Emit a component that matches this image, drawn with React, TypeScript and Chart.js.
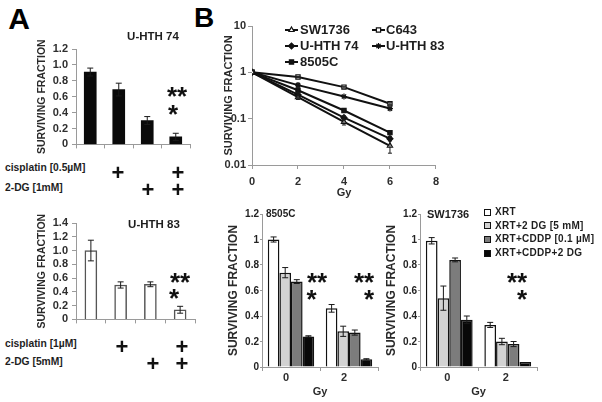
import React, { useEffect, useRef, useState } from 'react';
import { Chart, registerables } from 'chart.js';
import { drawPoint } from 'chart.js/helpers';

Chart.register(...registerables);

const FONT = "'Liberation Sans', Arial, Helvetica, sans-serif";

// ---------- Panel A (clonogenic survival, bars) ----------
const aTreatments = ['control', 'cisplatin', '2-DG', 'cisplatin + 2-DG'];
const uhth74Fraction = [0.91, 0.69, 0.3, 0.095];
const uhth74Error = [0.05, 0.08, 0.05, 0.045];
const uhth74Ticks = [0, 0.2, 0.4, 0.6, 0.8, 1.0, 1.2];
const uhth83Fraction = [1.0, 0.5, 0.51, 0.14];
const uhth83Error = [0.15, 0.045, 0.035, 0.05];
const uhth83Ticks = [0, 0.2, 0.4, 0.6, 0.8, 1.0, 1.2, 1.4];

// ---------- Panel B (dose response, log lines) ----------
const doseGy = [0, 2, 4, 6];
const survivalTicks = [0.01, 0.1, 1, 10];
const sw1736Survival = [1, 0.29, 0.085, 0.026];
const sw1736SurvivalErr = [0, 0.03, 0.012, 0.008];
const c643Survival = [1, 0.79, 0.48, 0.21];
const c643SurvivalErr = [0, 0.02, 0.02, 0.01];
const uhth74Survival = [1, 0.33, 0.105, 0.037];
const uhth74SurvivalErr = [0, 0.04, 0.01, 0.004];
const uhth83Survival = [1, 0.53, 0.3, 0.165];
const uhth83SurvivalErr = [0, 0.05, 0.015, 0.008];
const c8505Survival = [1, 0.41, 0.15, 0.05];
const c8505SurvivalErr = [0, 0.05, 0.012, 0.005];

// ---------- Panel B (combination bars) ----------
const gyCategories = ['0', '2'];
const comboTicks = [0, 0.2, 0.4, 0.6, 0.8, 1, 1.2];
const comboNames = ['XRT', 'XRT+2 DG [5 mM]', 'XRT+CDDP [0.1 µM]', 'XRT+CDDP+2 DG'];
const c8505Xrt = [1.0, 0.46];
const c8505XrtErr = [0.02, 0.03];
const c8505Xrt2dg = [0.74, 0.28];
const c8505Xrt2dgErr = [0.04, 0.04];
const c8505XrtCddp = [0.67, 0.27];
const c8505XrtCddpErr = [0.015, 0.02];
const c8505XrtCddp2dg = [0.24, 0.06];
const c8505XrtCddp2dgErr = [0.005, 0.005];
const sw1736Xrt = [0.99, 0.33];
const sw1736XrtErr = [0.025, 0.02];
const sw1736Xrt2dg = [0.54, 0.2];
const sw1736Xrt2dgErr = [0.095, 0.025];
const sw1736XrtCddp = [0.84, 0.18];
const sw1736XrtCddpErr = [0.015, 0.02];
const sw1736XrtCddp2dg = [0.37, 0.04];
const sw1736XrtCddp2dgErr = [0.03, 0];

const comboFills = ['#ffffff', '#d2d2d2', '#7c7c7c', '#080808'];

const AXIS = '#9a9a9a';
const TICK_COLOR = '#2e2e2e';

const errorBarPlugin = {
  id: 'errorBars',
  afterDatasetsDraw(chart: any) {
    const ctx = chart.ctx;
    chart.data.datasets.forEach((ds: any, i: number) => {
      const errs = ds.errors;
      if (!errs) return;
      const meta = chart.getDatasetMeta(i);
      const yScale = chart.scales[meta.yAxisID];
      meta.data.forEach((el: any, j: number) => {
        const e = errs[j];
        if (!e) return;
        const raw = ds.data[j];
        const v = typeof raw === 'object' ? raw.y : raw;
        const x = el.x;
        const yTop = yScale.getPixelForValue(v + e);
        const yBot = yScale.getPixelForValue(Math.max(v - e, yScale.min));
        const w = ds.errorCap ?? 3;
        ctx.save();
        ctx.strokeStyle = ds.errorColor || '#1a1a1a';
        ctx.lineWidth = 1;
        ctx.beginPath();
        ctx.moveTo(x, yTop);
        ctx.lineTo(x, yBot);
        ctx.moveTo(x - w, yTop);
        ctx.lineTo(x + w, yTop);
        ctx.moveTo(x - w, yBot);
        ctx.lineTo(x + w, yBot);
        ctx.stroke();
        ctx.restore();
      });
    });
  },
};

const lineLegendPlugin = {
  id: 'lineLegend',
  afterDraw(chart: any, _args: any, opts: any) {
    if (!opts || !opts.items) return;
    const ctx = chart.ctx;
    chart.data.datasets.forEach((ds: any, i: number) => {
      const it = opts.items[i];
      if (!it) return;
      ctx.save();
      ctx.strokeStyle = '#111';
      ctx.lineWidth = 2;
      ctx.beginPath();
      ctx.moveTo(it.x, it.y);
      ctx.lineTo(it.x + 13, it.y);
      ctx.stroke();
      ctx.fillStyle = ds.pointBackgroundColor;
      ctx.strokeStyle = '#111';
      ctx.lineWidth = 1.2;
      drawPoint(ctx, { pointStyle: ds.pointStyle, rotation: 0, radius: 3, borderWidth: 1.2 }, it.x + 6.5, it.y);
      ctx.fillStyle = '#1e1e1e';
      ctx.font = `bold 13px ${FONT}`;
      ctx.textBaseline = 'middle';
      ctx.textAlign = 'left';
      ctx.fillText(ds.label, it.tx, it.y + 0.5);
      ctx.restore();
    });
  },
};

// Canvas wrapper. When yLabels is set, the y tick labels are laid out as HTML
// text at the pixel positions reported by the chart's own y scale.
function ChartCanvas({ left, top, width, height, make, yLabels }: any) {
  const ref = useRef<HTMLCanvasElement | null>(null);
  const [labels, setLabels] = useState<any[]>([]);
  useEffect(() => {
    const chart: any = new Chart(ref.current as HTMLCanvasElement, make());
    if (yLabels) {
      const s = chart.scales.y;
      setLabels(
        s.ticks.map((t: any) => ({
          text: String(t.value),
          right: s.right - yLabels.offset,
          y: s.getPixelForValue(t.value),
        }))
      );
    }
    return () => chart.destroy();
  }, []);
  return (
    <>
      <canvas
        ref={ref}
        width={width}
        height={height}
        style={{ position: 'absolute', left, top, width, height }}
      />
      {yLabels &&
        labels.map((l) => (
          <div
            key={l.text}
            style={{
              position: 'absolute',
              zIndex: 5,
              left: left + l.right - 30,
              width: 30,
              textAlign: 'right',
              top: top + l.y - yLabels.size / 2,
              fontSize: yLabels.size,
              lineHeight: `${yLabels.size}px`,
              fontWeight: 700,
              color: '#222',
              whiteSpace: 'nowrap',
            }}
          >
            {l.text}
          </div>
        ))}
    </>
  );
}

function Txt({ x, y, size, children, bold = true, align = 'left', color = '#1e1e1e', spacing }: any) {
  const style: any = {
    position: 'absolute',
    top: y - size / 2,
    left: x,
    fontSize: size,
    lineHeight: `${size}px`,
    fontWeight: bold ? 700 : 400,
    color,
    whiteSpace: 'nowrap',
    letterSpacing: spacing,
  };
  if (align === 'center') style.transform = 'translateX(-50%)';
  return <div style={style}>{children}</div>;
}

function Stars({ x, y, text }: any) {
  const size = 26;
  return (
    <div
      style={{
        position: 'absolute',
        left: x,
        top: y - 0.28 * size,
        transform: 'translateX(-50%)',
        fontSize: size,
        lineHeight: `${size}px`,
        fontWeight: 700,
        color: '#111',
        whiteSpace: 'nowrap',
      }}
    >
      {text}
    </div>
  );
}

function Plus({ x, y }: any) {
  return (
    <Txt x={x} y={y} size={22} align="center" color="#111">
      +
    </Txt>
  );
}

function fixedTicks(values: number[]) {
  return (s: any) => {
    s.ticks = values.map((value) => ({ value }));
  };
}

function panelAConfig(values: number[], errors: number[], tickValues: number[], fill: string, border: string, bw: number) {
  return {
    type: 'bar',
    data: {
      labels: aTreatments,
      datasets: [
        {
          data: values,
          errors,
          errorCap: 3,
          backgroundColor: fill,
          borderColor: border,
          borderWidth: bw,
          barThickness: 12,
        },
      ],
    },
    options: {
      responsive: false,
      animation: false,
      devicePixelRatio: 1,
      events: [],
      layout: { padding: { top: 11, right: 5, left: 0, bottom: 0 } },
      plugins: { legend: { display: false }, tooltip: { enabled: false } },
      scales: {
        x: {
          grid: { display: true, drawOnChartArea: false, drawTicks: true, tickLength: 4, color: AXIS },
          border: { color: AXIS, width: 1 },
          ticks: { display: false },
          afterFit: (s: any) => {
            s.height = 6;
          },
        },
        y: {
          min: 0,
          max: tickValues[tickValues.length - 1],
          afterBuildTicks: fixedTicks(tickValues),
          ticks: {
            autoSkip: false,
            padding: 4,
            color: TICK_COLOR,
            font: { family: FONT, size: 11, weight: 'bold' },
            callback: (v: any) => (Number(v) === 0 ? '0' : Number(v).toFixed(1)),
          },
          grid: { display: true, drawOnChartArea: false, drawTicks: true, tickLength: 4, color: AXIS },
          border: { color: AXIS, width: 1 },
          title: {
            display: true,
            text: 'SURVIVING FRACTION',
            color: '#2a2a2a',
            font: { family: FONT, size: 10.5, weight: 'bold' },
            padding: { top: 6, bottom: 0 },
          },
          afterFit: (s: any) => {
            s.width = 46;
          },
        },
      },
    },
    plugins: [errorBarPlugin],
  };
}

function panelBBarConfig(series: number[][], errs: number[][], labelOffset: number) {
  return {
    type: 'bar',
    data: {
      labels: gyCategories,
      datasets: series.map((vals, i) => ({
        label: comboNames[i],
        data: vals,
        errors: errs[i],
        errorCap: 3,
        backgroundColor: comboFills[i],
        borderColor: '#111',
        borderWidth: 1.5,
        categoryPercentage: 0.8,
        barPercentage: 1,
      })),
    },
    options: {
      responsive: false,
      animation: false,
      devicePixelRatio: 1,
      events: [],
      layout: { padding: { top: 11, right: 4, left: 0, bottom: 0 } },
      plugins: { legend: { display: false }, tooltip: { enabled: false } },
      scales: {
        x: {
          grid: { display: true, drawOnChartArea: false, drawTicks: true, tickLength: 4, color: AXIS },
          border: { color: AXIS, width: 1 },
          ticks: {
            padding: 0,
            labelOffset,
            color: TICK_COLOR,
            font: { family: FONT, size: 11, weight: 'bold' },
          },
          title: {
            display: true,
            text: 'Gy',
            color: '#2a2a2a',
            font: { family: FONT, size: 11, weight: 'bold' },
            padding: { top: 0, bottom: 0 },
          },
          afterFit: (s: any) => {
            s.height = 32;
          },
        },
        y: {
          min: 0,
          max: comboTicks[comboTicks.length - 1],
          afterBuildTicks: fixedTicks(comboTicks),
          ticks: { display: false, autoSkip: false },
          grid: { display: true, drawOnChartArea: false, drawTicks: true, tickLength: 2, color: AXIS },
          border: { color: AXIS, width: 1 },
          title: {
            display: true,
            text: 'SURVIVING FRACTION',
            color: '#2a2a2a',
            font: { family: FONT, size: 12, weight: 'bold' },
            padding: { top: 4, bottom: 0 },
          },
          afterFit: (s: any) => {
            s.width = 40;
          },
        },
      },
    },
    plugins: [errorBarPlugin],
  };
}

const lineSeries = [
  { name: 'SW1736', values: sw1736Survival, errors: sw1736SurvivalErr, style: 'triangle', fill: '#ffffff' },
  { name: 'C643', values: c643Survival, errors: c643SurvivalErr, style: 'rect', fill: '#ffffff' },
  { name: 'U-HTH 74', values: uhth74Survival, errors: uhth74SurvivalErr, style: 'rectRot', fill: '#111111' },
  { name: 'U-HTH 83', values: uhth83Survival, errors: uhth83SurvivalErr, style: 'star', fill: '#111111' },
  { name: '8505C', values: c8505Survival, errors: c8505SurvivalErr, style: 'rect', fill: '#111111' },
];

function lineConfig() {
  return {
    type: 'line',
    data: {
      datasets: lineSeries.map((s) => ({
        label: s.name,
        data: doseGy.map((d, i) => ({ x: d, y: s.values[i] })),
        errors: s.errors,
        errorCap: 2,
        borderColor: '#111',
        borderWidth: 2,
        tension: 0,
        pointStyle: s.style,
        pointRadius: 3,
        pointBackgroundColor: s.fill,
        pointBorderColor: '#111',
        pointBorderWidth: 1.2,
      })),
    },
    options: {
      responsive: false,
      animation: false,
      devicePixelRatio: 1,
      events: [],
      layout: { padding: { top: 12, right: 7, left: 0, bottom: 0 } },
      plugins: {
        legend: { display: false },
        tooltip: { enabled: false },
        lineLegend: {
          items: [
            { x: 70, tx: 85, y: 16 },
            { x: 157, tx: 171, y: 16 },
            { x: 70, tx: 85, y: 32 },
            { x: 157, tx: 171, y: 32 },
            { x: 70, tx: 85, y: 48 },
          ],
        },
      },
      scales: {
        x: {
          type: 'linear',
          min: 0,
          max: 8,
          grid: { display: true, drawOnChartArea: false, drawTicks: true, tickLength: 4, color: AXIS },
          border: { color: AXIS, width: 1 },
          ticks: {
            stepSize: 2,
            padding: 6,
            color: TICK_COLOR,
            font: { family: FONT, size: 11, weight: 'bold' },
          },
          title: {
            display: true,
            text: 'Gy',
            color: '#2a2a2a',
            font: { family: FONT, size: 11, weight: 'bold' },
            padding: { top: 0, bottom: 0 },
          },
          afterFit: (s: any) => {
            s.height = 35;
          },
        },
        y: {
          type: 'logarithmic',
          min: 0.01,
          max: 10,
          afterBuildTicks: fixedTicks(survivalTicks),
          ticks: {
            autoSkip: false,
            padding: 2,
            color: TICK_COLOR,
            font: { family: FONT, size: 11, weight: 'bold' },
            callback: (v: any) => String(v),
          },
          grid: { display: true, drawOnChartArea: false, drawTicks: true, tickLength: 4, color: AXIS },
          border: { color: AXIS, width: 1 },
          title: {
            display: true,
            text: 'SURVIVING FRACTION',
            color: '#2a2a2a',
            font: { family: FONT, size: 11, weight: 'bold' },
            padding: { top: 7, bottom: 0 },
          },
          afterFit: (s: any) => {
            s.width = 37;
          },
        },
      },
    },
    plugins: [errorBarPlugin, lineLegendPlugin],
  };
}

function LegendSquare({ x, y, fill, label }: any) {
  return (
    <>
      <div
        style={{
          position: 'absolute',
          left: x,
          top: y - 3.5,
          width: 7,
          height: 7,
          boxSizing: 'border-box',
          border: '1.5px solid #111',
          background: fill,
        }}
      />
      <Txt x={x + 11} y={y} size={10} spacing="0.3px">
        {label}
      </Txt>
    </>
  );
}

export default function App() {
  return (
    <div
      style={{
        position: 'absolute',
        left: 0,
        top: 0,
        width: 602,
        height: 402,
        background: '#fff',
        overflow: 'hidden',
        fontFamily: FONT,
      }}
    >
      {/* Panel letters */}
      <Txt x={19} y={18.5} size={30} align="center" color="#000">A</Txt>
      <Txt x={204} y={18} size={28} align="center" color="#000">B</Txt>

      {/* Panel A top: U-HTH 74 */}
      <ChartCanvas
        left={30}
        top={38}
        width={165}
        height={117}
        make={() => panelAConfig(uhth74Fraction, uhth74Error, uhth74Ticks, '#0a0a0a', '#0a0a0a', 0)}
      />
      <Txt x={153} y={37} size={11.5} align="center">U-HTH 74</Txt>
      <Stars x={177} y={90} text="**" />
      <Stars x={173} y={108} text="*" />
      <Txt x={5} y={168} size={10.3}>cisplatin [0.5µM]</Txt>
      <Txt x={5} y={188} size={10.3}>2-DG [1mM]</Txt>
      <Plus x={118} y={173} />
      <Plus x={178} y={173} />
      <Plus x={148} y={190} />
      <Plus x={178} y={190} />

      {/* Panel A bottom: U-HTH 83 */}
      <ChartCanvas
        left={30}
        top={212}
        width={170}
        height={118}
        make={() => panelAConfig(uhth83Fraction, uhth83Error, uhth83Ticks, '#ffffff', '#555555', 1.5)}
      />
      <Txt x={154} y={225} size={11.5} align="center">U-HTH 83</Txt>
      <Stars x={180} y={276} text="**" />
      <Stars x={174} y={292} text="*" />
      <Txt x={5} y={344} size={10.3}>cisplatin [1µM]</Txt>
      <Txt x={5} y={362} size={10.3}>2-DG [5mM]</Txt>
      <Plus x={122} y={347} />
      <Plus x={182} y={347} />
      <Plus x={153} y={364} />
      <Plus x={182} y={364} />

      {/* Panel B top: dose response */}
      <ChartCanvas left={215} top={14} width={230} height={186} make={lineConfig} />

      {/* Panel B bottom left: 8505C */}
      <ChartCanvas
        left={222}
        top={203}
        width={160}
        height={196}
        yLabels={{ size: 10, offset: 3 }}
        make={() =>
          panelBBarConfig(
            [c8505Xrt, c8505Xrt2dg, c8505XrtCddp, c8505XrtCddp2dg],
            [c8505XrtErr, c8505Xrt2dgErr, c8505XrtCddpErr, c8505XrtCddp2dgErr],
            -5
          )
        }
      />
      <Txt x={266} y={214} size={10}>8505C</Txt>
      <Stars x={317} y={276} text="**" />
      <Stars x={311.5} y={293} text="*" />
      <Stars x={364} y={276} text="**" />
      <Stars x={369} y={293} text="*" />

      {/* Panel B bottom right: SW1736 */}
      <ChartCanvas
        left={380}
        top={203}
        width={161}
        height={196}
        yLabels={{ size: 10, offset: 3 }}
        make={() =>
          panelBBarConfig(
            [sw1736Xrt, sw1736Xrt2dg, sw1736XrtCddp, sw1736XrtCddp2dg],
            [sw1736XrtErr, sw1736Xrt2dgErr, sw1736XrtCddpErr, sw1736XrtCddp2dgErr],
            -2
          )
        }
      />
      <Txt x={427} y={214} size={11}>SW1736</Txt>
      <Stars x={517} y={276} text="**" />
      <Stars x={522} y={293} text="*" />
      {comboNames.map((name, i) => (
        <LegendSquare key={name} x={484} y={212 + i * 13.7} fill={comboFills[i]} label={name} />
      ))}
    </div>
  );
}
